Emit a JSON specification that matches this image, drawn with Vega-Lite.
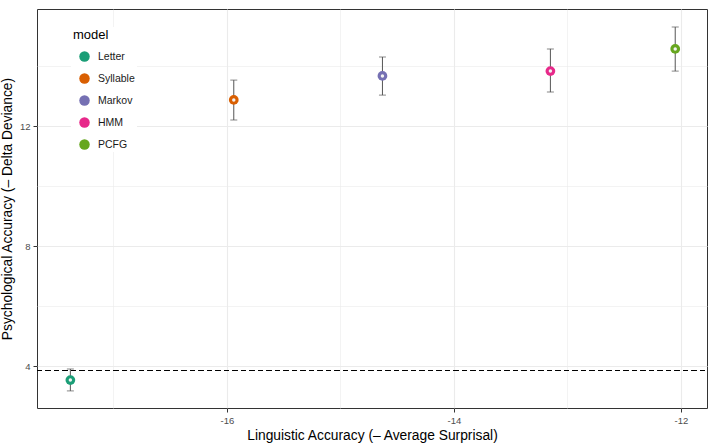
{
  "$schema": "https://vega.github.io/schema/vega-lite/v6.json",
  "width": 670,
  "height": 399,
  "autosize": {"type": "none"},
  "padding": {"left": 37, "top": 9, "right": 6, "bottom": 36},
  "background": "white",
  "config": {
    "font": "Liberation Sans",
    "view": {"stroke": "#333333", "strokeWidth": 1},
    "axis": {
      "domain": false,
      "gridColor": "#EBEBEB",
      "tickColor": "#333333",
      "tickSize": 4,
      "labelColor": "#4D4D4D",
      "labelFontSize": 9.5,
      "labelPadding": 3,
      "titleColor": "#000000",
      "titleFontSize": 13.8,
      "titleFontWeight": "normal"
    }
  },
  "data": {
    "values": [
      {"model": "Letter", "acc": -17.38, "psych": 3.53, "lo": 3.17, "hi": 3.9},
      {"model": "Syllable", "acc": -15.94, "psych": 12.87, "lo": 12.2, "hi": 13.53},
      {"model": "Markov", "acc": -14.63, "psych": 13.67, "lo": 13.03, "hi": 14.3},
      {"model": "HMM", "acc": -13.15, "psych": 13.83, "lo": 13.13, "hi": 14.57},
      {"model": "PCFG", "acc": -12.05, "psych": 14.57, "lo": 13.83, "hi": 15.3}
    ]
  },
  "encoding": {
    "x": {
      "field": "acc",
      "type": "quantitative",
      "title": "Linguistic Accuracy (– Average Surprisal)",
      "scale": {"domain": [-17.674, -11.77], "nice": false, "zero": false},
      "axis": {
        "values": [-17, -16, -15, -14, -13, -12],
        "labelExpr": "datum.value % 2 == 0 ? '' + datum.value : ''",
        "tickOpacity": {"condition": {"test": "datum.value % 2 == 0", "value": 1}, "value": 0},
        "gridWidth": {"condition": {"test": "datum.value % 2 == 0", "value": 1.1}, "value": 0.6},
        "titlePadding": 4
      }
    }
  },
  "layer": [
    {
      "mark": {"type": "rule", "color": "#555555", "strokeWidth": 1},
      "encoding": {
        "y": {
          "field": "lo",
          "type": "quantitative",
          "title": "Psychological Accuracy (– Delta Deviance)",
          "scale": {"domain": [2.6, 15.9], "nice": false, "zero": false},
          "axis": {
            "values": [4, 6, 8, 10, 12, 14],
            "labelExpr": "datum.value % 4 == 0 ? '' + datum.value : ''",
            "tickOpacity": {"condition": {"test": "datum.value % 4 == 0", "value": 1}, "value": 0},
            "gridWidth": {"condition": {"test": "datum.value % 4 == 0", "value": 1.1}, "value": 0.6},
            "titlePadding": 5
          }
        },
        "y2": {"field": "hi"}
      }
    },
    {
      "mark": {"type": "tick", "orient": "horizontal", "color": "#555555", "size": 7, "thickness": 1},
      "encoding": {"y": {"field": "lo", "type": "quantitative"}}
    },
    {
      "mark": {"type": "tick", "orient": "horizontal", "color": "#555555", "size": 7, "thickness": 1},
      "encoding": {"y": {"field": "hi", "type": "quantitative"}}
    },
    {
      "mark": {"type": "point", "filled": true, "opacity": 1, "size": 95, "shape": "circle"},
      "encoding": {
        "y": {"field": "psych", "type": "quantitative"},
        "color": {
          "field": "model",
          "type": "nominal",
          "scale": {
            "domain": ["Letter", "Syllable", "Markov", "HMM", "PCFG"],
            "range": ["#1B9E77", "#D95F02", "#7570B3", "#E7298A", "#66A61E"]
          },
          "legend": {
            "title": "model",
            "orient": "none",
            "legendX": 34,
            "legendY": 18,
            "fillColor": "white",
            "padding": 2,
            "titleFontSize": 13,
            "titleFontWeight": "normal",
            "titleColor": "#000000",
            "titlePadding": 9,
            "labelFontSize": 10.5,
            "labelColor": "#1A1A1A",
            "symbolSize": 110,
            "symbolType": "circle",
            "symbolOpacity": 1,
            "symbolStrokeWidth": 0,
            "symbolOffset": 6,
            "rowPadding": 11,
            "labelOffset": 8,
            "offset": 0
          }
        }
      }
    },
    {
      "mark": {"type": "point", "filled": true, "opacity": 1, "size": 12, "shape": "circle", "color": "#F2F2F2"},
      "encoding": {"y": {"field": "psych", "type": "quantitative"}}
    },
    {
      "mark": {"type": "rule", "color": "#000000", "strokeWidth": 1.2, "strokeDash": [5, 3.5]},
      "encoding": {"y": {"datum": 3.85, "type": "quantitative"}, "x": {"value": 0}, "x2": {"value": 670}}
    }
  ]
}
